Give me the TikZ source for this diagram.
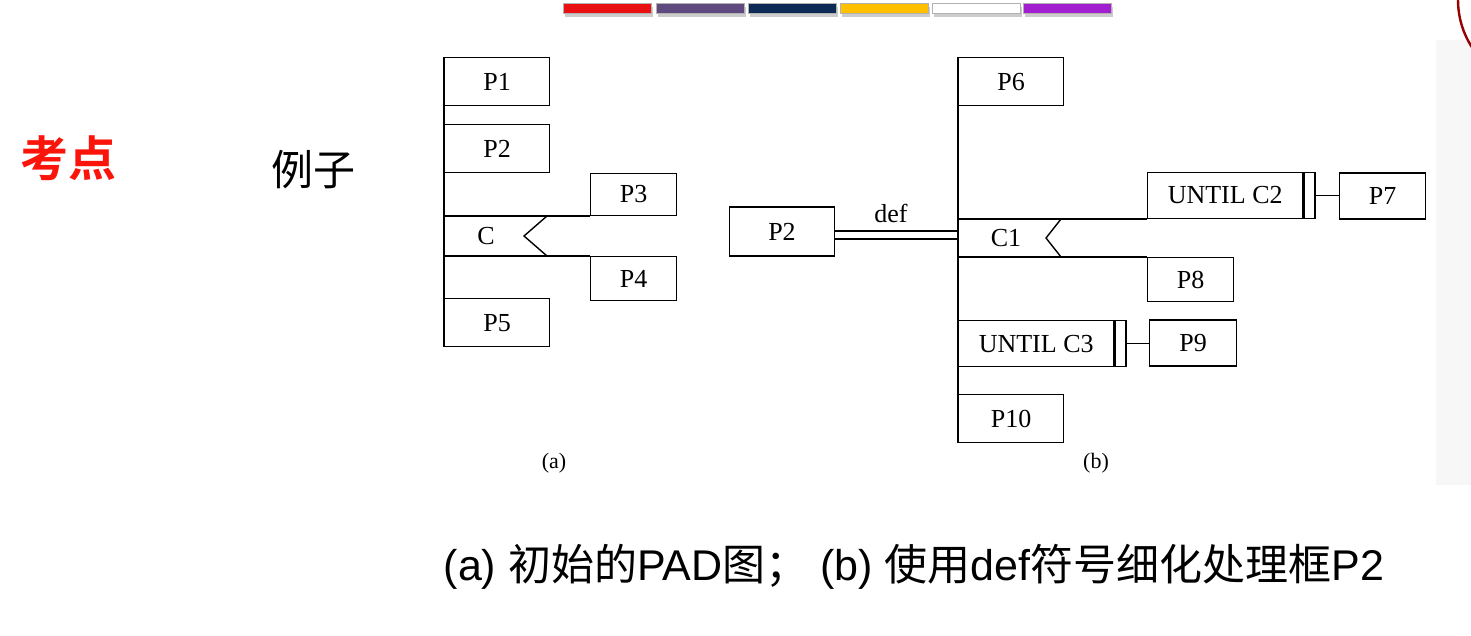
\documentclass[tikz,border=0pt]{standalone}
\usepackage{fontspec}
\usepackage{xcolor}
\setmainfont{Liberation Serif}
\newfontfamily\capsans{Liberation Sans}
\newfontfamily\cjk[BoldFont={Noto Sans CJK SC Bold}]{Noto Sans CJK SC}
\newcommand\zh[1]{{\cjk #1}}
\definecolor{barred}{RGB}{232,16,16}
\definecolor{barslate}{RGB}{94,74,126}
\definecolor{barnavy}{RGB}{13,42,85}
\definecolor{bargold}{RGB}{255,192,0}
\definecolor{barviolet}{RGB}{160,32,208}
\definecolor{titlered}{RGB}{250,20,10}

\begin{document}
\begin{tikzpicture}[x=0.5pt, y=-0.5pt, line width=0.7pt,
  font=\fontsize{13}{15}\selectfont,
  bigbox/.style={draw, inner sep=0pt, minimum width=52.5pt, minimum height=24pt},
  smallbox/.style={draw, inner sep=0pt, minimum width=43pt, minimum height=22pt},
  untilbox/.style={draw, inner sep=0pt, minimum width=77.5pt, minimum height=23pt},
  untilbar/.style={draw, inner sep=0pt, minimum width=5.5pt, minimum height=23pt}]
\fill[white] (0,0) rectangle (1471,636);
\useasboundingbox (0,0) rectangle (1471,636);
\fill[black!3] (1436,40) rectangle (1471,485);
\begin{scope}
\clip (0,0) rectangle (1471,636);
\draw[red!60!black, line width=1.2pt] (1545,0) circle[radius=43.5pt];
\end{scope}

% colour bar
\foreach \xa/\col in {563/barred, 656/barslate, 748/barnavy, 840/bargold, 932/white, 1023/barviolet} {
  \fill[black!20] (\xa+2,7) rectangle +(88,10);
  \fill[\col, draw=black!30, line width=0.5pt] (\xa,4) rectangle +(88,10);
}

\node[text=titlered, font=\cjk\bfseries\fontsize{24}{28}\selectfont] (kaodian) at (68,158) {考点};
\node[font=\cjk\fontsize{21}{25}\selectfont] (lizi) at (313,170) {例子};

% (a)
\node[bigbox, anchor=north west] (P1) at (444,57) {P1};
\node[bigbox, anchor=north west] (P2) at (444,124) {P2};
\coordinate (Ctop) at (444,216);
\coordinate (Cbot) at (444,256);
\node[smallbox, minimum height=21pt, anchor=south west] (P3) at (590,216) {P3};
\node[smallbox, anchor=north west] (P4) at (590,256) {P4};
\node[bigbox, anchor=north west] (P5) at (444,298) {P5};
\node (C) at (486,236) {C};
\draw (P1.north west) -- (P5.south west);
\draw (Ctop) -- (P3.south west);
\draw (Cbot) -- (P4.north west);
\draw (547,216) -- (524,236) -- (547,256);
\node[font=\fontsize{11}{13}\selectfont] (capa) at (554,463) {(a)};

% (b)
\node[bigbox, anchor=north west] (P6) at (958,57) {P6};
\node[bigbox, minimum height=24.5pt] (P2b) at (782,231.5) {P2};
\coordinate (C1top) at (958,219);
\coordinate (C1bot) at (958,257);
\coordinate (defend) at (958,235);
\node (C1) at (1006,238) {C1};
\draw (1061,219) -- (1046,238) -- (1061,257);
\node[untilbox, anchor=south west] (U2) at (1147,219) {UNTIL C2};
\node[untilbar, anchor=west] (U2bar) at (U2.east) {};
\node[smallbox, minimum height=23pt, anchor=west] (P7) at (1339,196) {P7};
\draw (U2bar.east) -- (U2bar.east -| P7.west);
\draw (C1top) -- (U2.south west);
\node[smallbox, anchor=north west] (P8) at (1147,257) {P8};
\draw (C1bot) -- (P8.north west);
\node[untilbox, anchor=north west] (U3) at (958,320) {UNTIL C3};
\node[untilbar, anchor=west] (U3bar) at (U3.east) {};
\node[smallbox, minimum height=23pt, minimum width=43.5pt, anchor=west] (P9) at (1149,343) {P9};
\draw (U3bar.east) -- (U3bar.east -| P9.west);
\node[bigbox, anchor=north west] (P10) at (958,394) {P10};
\draw[double, double distance=3.3pt] (P2b.east |- defend) -- (defend);
\node (def) at (891,213) {def};
\draw (P6.north west) -- (P10.south west);
\node[font=\fontsize{11}{13}\selectfont] (capb) at (1096,463) {(b)};

\node[font=\capsans\fontsize{21.5}{25}\selectfont] (caption) at (914,567)
  {(a) \zh{初始的}PAD\zh{图；} (b) \zh{使用}def\zh{符号细化处理框}P2};
\end{tikzpicture}
\end{document}
